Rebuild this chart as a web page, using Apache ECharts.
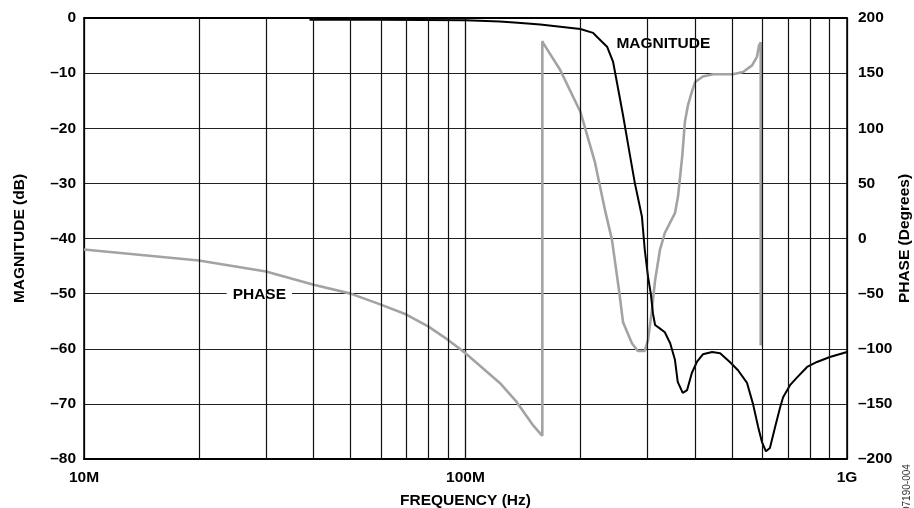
<!DOCTYPE html>
<html>
<head>
<meta charset="utf-8">
<script src="https://cdn.jsdelivr.net/npm/echarts@6/dist/echarts.min.js"></script>
<style>
  html, body { margin: 0; padding: 0; background: #fff; }
  #chart { width: 914px; height: 508px; }
</style>
</head>
<body>
<div id="chart"></div>
<script>
// magnitude curve (MHz, dB)
const magFreqMHz = [39, 60, 100, 123, 137, 157, 200, 216, 221, 235, 243.6, 251, 258.7, 270, 278, 290, 295, 301, 306, 310, 314, 323, 333, 344, 354, 360, 371, 381, 392, 404, 419, 443, 465, 493, 518, 547, 567, 585, 599, 613, 628, 648, 668, 680, 709, 740, 786, 834, 902, 1000];
const magDb = [-0.3, -0.3, -0.4, -0.65, -0.85, -1.2, -2.0, -2.7, -3.4, -5.2, -7.9, -12.7, -17.6, -25, -30, -36, -42, -47, -50, -53.6, -55.7, -56.3, -57, -59, -62, -66, -68, -67.5, -64.4, -62.4, -61, -60.6, -60.8, -62.4, -63.9, -66.2, -70, -74.2, -77, -78.6, -78, -74.2, -70.6, -68.8, -66.6, -65.2, -63.3, -62.4, -61.5, -60.6];

// phase curve (MHz, degrees)
const phaseFreqMHz = [10, 20, 30, 40, 50, 60, 70, 80, 90, 100, 123, 136, 150, 159, 159, 160, 177, 200, 218.5, 224, 232, 242, 252.6, 258.8, 273, 283, 295, 301, 308, 314, 323.5, 333, 354, 360.6, 370, 376, 383, 392, 400, 419, 446, 502, 534, 564, 581, 588, 594, 594];
const phaseDeg = [-10, -20, -30, -42, -50, -60, -69, -80, -92, -104, -131, -148, -169, -179, 179, 177, 153, 115, 69, 51, 26, -1, -47, -76, -95, -102, -102, -92, -65, -38, -10, 5, 23, 38, 75, 106, 121, 133, 142, 147, 149, 149, 151, 157, 165, 175, 178, -97];

// minor log grid lines (MHz)
const gridFreqMHz = [20, 30, 40, 50, 60, 70, 80, 90, 200, 300, 400, 500, 600, 700, 800, 900];
const xTickLabels = { 7: '10M', 8: '100M', 9: '1G' };

const FONT = 'Liberation Sans, Arial, Helvetica, sans-serif';
const M = 1e6;

const chart = echarts.init(document.getElementById('chart'));

const labelStyle = { fontFamily: FONT, fontWeight: 'bold', fontSize: 15.5, color: '#000' };
const signed = v => v < 0 ? '\u2013' + Math.abs(v) : String(v);

const option = {
  backgroundColor: '#fff',
  animation: false,
  grid: { left: 84, right: 67, top: 18, bottom: 49, containLabel: false, outerBoundsMode: 'none' },
  xAxis: [{
    type: 'log',
    logBase: 10,
    min: 1e7,
    max: 1e9,
    name: 'FREQUENCY (Hz)',
    nameLocation: 'middle',
    nameGap: 34,
    nameMoveOverlap: false,
    nameTextStyle: labelStyle,
    axisLine: { show: true, onZero: false, lineStyle: { color: '#000', width: 2 } },
    axisTick: { show: false },
    axisLabel: {
      ...labelStyle,
      margin: 11,
      formatter: v => xTickLabels[Math.round(Math.log10(v))] || ''
    },
    splitLine: { show: true, lineStyle: { color: '#111', width: 1.3 } }
  }, {
    type: 'log',
    logBase: 10,
    min: 1e7,
    max: 1e9,
    position: 'top',
    axisLine: { show: true, onZero: false, lineStyle: { color: '#000', width: 1.8 } },
    axisTick: { show: false },
    axisLabel: { show: false },
    splitLine: { show: false }
  }],
  yAxis: [{
    type: 'value',
    min: -80,
    max: 0,
    interval: 10,
    name: 'MAGNITUDE (dB)',
    nameLocation: 'middle',
    nameRotate: 90,
    nameGap: 56,
    nameMoveOverlap: false,
    nameTextStyle: labelStyle,
    axisLine: { show: true, onZero: false, lineStyle: { color: '#000', width: 1.5 } },
    axisTick: { show: false },
    axisLabel: { ...labelStyle, margin: 8, formatter: signed },
    splitLine: { show: true, lineStyle: { color: '#222', width: 1 } }
  }, {
    type: 'value',
    min: -200,
    max: 200,
    interval: 50,
    position: 'right',
    name: 'PHASE (Degrees)',
    nameLocation: 'middle',
    nameRotate: 90,
    nameGap: 50,
    nameMoveOverlap: false,
    nameTextStyle: labelStyle,
    axisLine: { show: true, onZero: false, lineStyle: { color: '#000', width: 1.5 } },
    axisTick: { show: false },
    axisLabel: { ...labelStyle, margin: 11, formatter: signed },
    splitLine: { show: false }
  }],
  series: [{
    name: 'grid',
    type: 'line',
    z: 1,
    silent: true,
    data: [],
    markLine: {
      silent: true,
      symbol: 'none',
      label: { show: false },
      lineStyle: { type: 'solid', color: '#111', width: 1.2 },
      data: gridFreqMHz.map(f => ({ xAxis: f * M }))
    }
  }, {
    name: 'labels',
    type: 'scatter',
    z: 2,
    silent: true,
    symbol: 'rect',
    symbolSize: 1,
    itemStyle: { color: '#fff', opacity: 1 },
    label: {
      show: true,
      position: [0, 0],
      align: 'center',
      verticalAlign: 'middle',
      formatter: '{b}',
      ...labelStyle,
      opacity: 1,
      textBorderWidth: 0,
      backgroundColor: '#fff',
      padding: [5, 6]
    },
    data: [
      { name: 'PHASE', value: [28.9 * M, -50.2] },
      { name: 'MAGNITUDE', value: [331 * M, -4.7] }
    ]
  }, {
    name: 'PHASE',
    type: 'line',
    yAxisIndex: 1,
    z: 3,
    symbol: 'none',
    lineStyle: { color: '#a3a3a3', width: 2.6 },
    data: phaseFreqMHz.map((f, i) => [f * M, phaseDeg[i]])
  }, {
    name: 'MAGNITUDE',
    type: 'line',
    yAxisIndex: 0,
    z: 4,
    symbol: 'none',
    lineStyle: { color: '#000', width: 2 },
    data: magFreqMHz.map((f, i) => [f * M, magDb[i]])
  }],
  graphic: [{
    type: 'text',
    x: 907,
    y: 512,
    rotation: Math.PI / 2,
    style: {
      text: '07190-004',
      fontFamily: FONT,
      fontSize: 10,
      fill: '#333',
      textAlign: 'left',
      textVerticalAlign: 'middle'
    }
  }]
};

chart.setOption(option);
</script>
</body>
</html>
